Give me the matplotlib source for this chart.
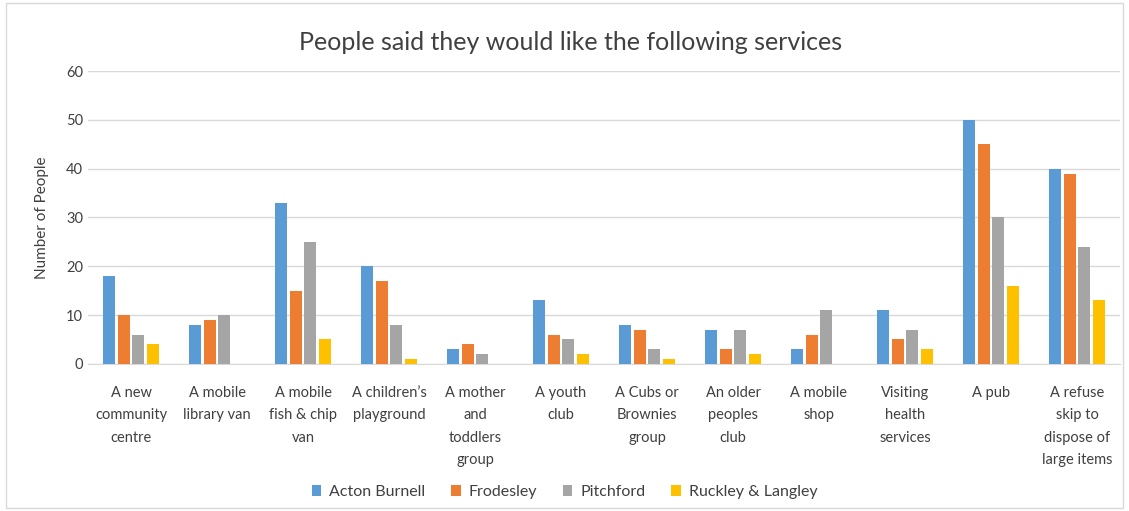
import matplotlib.pyplot as plt
import numpy as np
from matplotlib.patches import Rectangle

plt.rcParams['font.family'] = ['Lato', 'DejaVu Sans']

categories = ["A new\ncommunity\ncentre", "A mobile\nlibrary van", "A mobile\nfish & chip\nvan",
              "A children\u2019s\nplayground", "A mother\nand\ntoddlers\ngroup", "A youth\nclub",
              "A Cubs or\nBrownies\ngroup", "An older\npeoples\nclub", "A mobile\nshop",
              "Visiting\nhealth\nservices", "A pub", "A refuse\nskip to\ndispose of\nlarge items"]

acton_burnell = [18, 8, 33, 20, 3, 13, 8, 7, 3, 11, 50, 40]
frodesley = [10, 9, 15, 17, 4, 6, 7, 3, 6, 5, 45, 39]
pitchford = [6, 10, 25, 8, 2, 5, 3, 7, 11, 7, 30, 24]
ruckley = [4, 0, 5, 1, 0, 2, 1, 2, 0, 3, 16, 13]

series = [("Acton Burnell", acton_burnell, "#5B9BD5"),
          ("Frodesley", frodesley, "#ED7D31"),
          ("Pitchford", pitchford, "#A5A5A5"),
          ("Ruckley & Langley", ruckley, "#FFC000")]

fig = plt.figure(figsize=(11.29, 5.11), dpi=100)
ax = fig.add_axes([0.078, 0.288, 0.914, 0.573])

x = np.arange(len(categories))
step = 0.171
width = 0.14
for i, (name, vals, col) in enumerate(series):
    ax.bar(x + (i - 1.5) * step, vals, width, color=col, label=name, zorder=3)

ax.set_xlim(-0.5, len(categories) - 0.5)
ax.set_ylim(0, 60)
ax.set_yticks(range(0, 61, 10))
ax.grid(axis='y', color='#D9D9D9', linewidth=1, zorder=0)
for s in ['top', 'right', 'left']:
    ax.spines[s].set_visible(False)
ax.spines['bottom'].set_color('#D9D9D9')
ax.tick_params(length=0, colors='#404040', labelsize=10.5)
ax.tick_params(axis='x', pad=16)
ax.set_xticks(x)
ax.set_xticklabels(categories, va='top', linespacing=1.75)
ax.set_ylabel("Number of People", fontsize=11, color='#404040', labelpad=12)

fig.suptitle("People said they would like the following services", x=0.505, y=0.94,
             fontsize=18, color='#404040')

fig.legend(loc='center', bbox_to_anchor=(0.5, 0.037), ncol=4, frameon=False,
           handlelength=0.6, handleheight=0.6, handletextpad=0.5, columnspacing=1.6,
           fontsize=11.5, labelcolor='#404040')

fig.patches.append(Rectangle((0.005, 0.005), 0.99, 0.99, transform=fig.transFigure,
                             fill=False, edgecolor='#D9D9D9', linewidth=1))

fig.savefig("out.png", dpi=100)
